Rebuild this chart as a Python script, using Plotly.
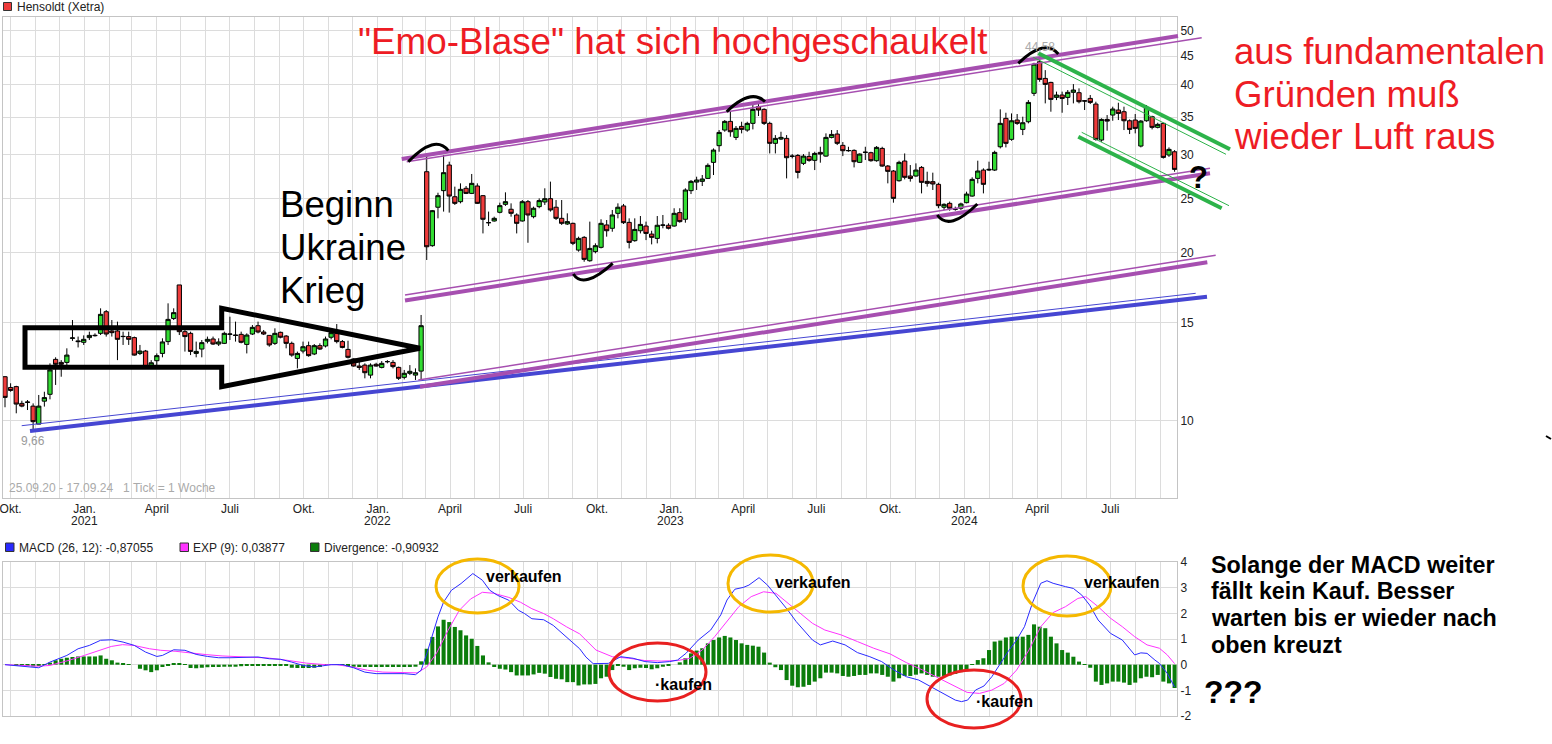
import plotly.graph_objects as go
import pandas as pd

# ---------------- data ----------------
candle_dates = pd.date_range("2020-09-24", periods=209, freq="7D")

opens = [11.99, 11.47, 11.51, 10.74, 10.78, 10.62, 9.86, 10.84, 11.15, 12.88,
         12.72, 12.72, 14.05, 13.90, 13.82, 14.09, 14.20, 14.34, 15.68, 14.48,
         14.48, 14.15, 14.15, 14.09, 13.20, 13.33, 12.55, 12.81, 13.20, 13.86,
         15.25, 17.51, 14.44, 14.34, 13.20, 13.44, 13.88, 14.01, 13.72, 13.76,
         14.28, 14.24, 14.28, 13.70, 14.30, 14.80, 14.42, 14.22, 13.76, 14.40,
         14.18, 13.76, 12.93, 13.33, 13.63, 13.17, 13.63, 13.61, 14.11, 14.34,
         13.86, 13.42, 12.90, 12.53, 12.58, 12.07, 12.62, 12.46, 12.76, 12.72,
         12.46, 11.96, 12.16, 12.07, 12.27, 27.94, 20.59, 24.13, 25.84, 28.72,
         25.20, 24.69, 26.09, 25.55, 26.34, 25.31, 22.64, 22.80, 23.63, 24.42,
         23.93, 23.37, 22.80, 24.69, 23.21, 24.19, 24.66, 25.00, 24.13, 23.05,
         22.52, 22.58, 20.22, 21.31, 19.35, 20.09, 20.45, 22.43, 22.12, 23.53,
         24.26, 22.67, 21.02, 21.90, 22.33, 21.60, 21.22, 22.40, 22.40, 22.33,
         23.60, 22.96, 25.84, 26.77, 26.85, 27.18, 29.04, 31.11, 33.18, 34.39,
         32.19, 33.69, 33.18, 34.11, 36.54, 36.14, 34.11, 31.41, 31.97, 32.06,
         29.80, 29.88, 28.92, 29.76, 29.28, 30.26, 29.80, 32.19, 32.64, 31.15,
         30.47, 30.51, 29.04, 30.26, 30.22, 29.24, 30.76, 28.60, 28.02, 26.92,
         29.20, 27.45, 27.45, 28.44, 26.85, 26.82, 26.52, 24.13, 24.52, 23.93,
         24.03, 24.59, 25.27, 27.18, 28.13, 28.13, 28.13, 30.97, 34.82, 31.93,
         34.58, 33.27, 34.34, 38.61, 43.98, 41.06, 40.39, 37.97, 38.34, 37.97,
         38.77, 38.71, 37.45, 37.81, 36.94, 31.84, 34.67, 35.30, 36.04, 35.79,
         34.48, 34.58, 31.06, 34.48, 35.06, 33.55, 34.11, 29.93, 30.34]

highs = [12.02, 11.67, 11.55, 10.86, 10.89, 10.74, 11.12, 11.27, 12.67, 12.99,
         12.84, 13.48, 15.15, 14.15, 14.22, 14.44, 14.34, 15.90, 15.79, 15.15,
         15.05, 14.44, 14.44, 14.15, 13.67, 13.39, 12.84, 13.20, 14.05, 16.23,
         15.90, 17.51, 14.54, 14.44, 13.86, 13.95, 14.15, 14.15, 14.05, 14.44,
         15.36, 15.05, 14.44, 14.34, 14.84, 15.05, 14.54, 14.24, 14.64, 14.44,
         14.24, 13.86, 13.30, 13.86, 13.86, 13.72, 13.76, 14.15, 14.54, 14.90,
         13.95, 13.91, 12.93, 12.81, 12.67, 12.67, 12.70, 12.79, 12.84, 12.84,
         12.50, 12.33, 12.58, 12.41, 15.47, 29.72, 23.86, 25.62, 29.93, 29.12,
         26.27, 26.63, 26.34, 27.68, 26.63, 25.38, 23.70, 23.21, 24.59, 25.66,
         24.52, 23.53, 24.86, 24.86, 24.19, 25.03, 26.09, 26.82, 24.86, 24.86,
         23.53, 22.64, 21.37, 21.42, 22.74, 20.79, 22.96, 22.89, 23.86, 24.52,
         24.46, 23.05, 23.05, 23.27, 22.74, 21.90, 23.27, 23.37, 22.58, 24.03,
         24.03, 26.09, 27.00, 27.37, 27.56, 28.92, 30.76, 33.18, 34.58, 35.79,
         33.74, 34.34, 34.34, 36.79, 36.94, 36.29, 34.34, 32.50, 32.95, 32.50,
         30.05, 30.05, 30.05, 30.34, 30.34, 30.97, 32.73, 33.18, 33.18, 31.58,
         30.97, 30.64, 30.13, 30.97, 30.34, 31.06, 30.97, 28.72, 28.13, 29.24,
         30.13, 28.72, 28.92, 28.60, 27.94, 27.83, 26.70, 24.52, 24.70, 24.19,
         24.59, 25.73, 27.30, 29.24, 28.33, 29.12, 30.47, 36.14, 35.64, 35.54,
         35.45, 35.06, 37.55, 43.80, 44.58, 42.49, 40.50, 38.88, 38.88, 39.14,
         40.11, 39.41, 37.55, 38.34, 37.30, 34.82, 35.30, 36.54, 37.14, 36.54,
         34.67, 35.45, 34.58, 36.79, 35.20, 34.20, 34.20, 30.89, 30.55]

lows = [10.57, 11.27, 10.31, 10.57, 10.45, 9.66, 9.86, 10.60, 10.92, 11.59,
        11.99, 12.50, 13.90, 13.53, 13.67, 13.95, 14.15, 14.24, 14.15, 14.15,
        12.84, 13.67, 13.67, 13.08, 13.11, 12.41, 12.50, 12.58, 12.99, 13.67,
        15.15, 14.24, 13.30, 13.11, 12.99, 12.99, 13.76, 13.67, 13.61, 13.72,
        13.95, 13.86, 13.76, 13.20, 14.24, 14.34, 14.24, 13.57, 13.67, 14.05,
        13.48, 13.02, 12.41, 13.20, 13.02, 13.11, 13.39, 13.53, 13.99, 13.76,
        13.48, 12.93, 12.50, 12.33, 11.91, 11.91, 12.50, 12.41, 12.67, 12.41,
        11.83, 11.86, 12.07, 11.83, 11.83, 19.41, 20.50, 23.05, 23.70, 23.60,
        24.36, 24.52, 25.48, 25.48, 24.46, 21.66, 22.33, 22.74, 23.53, 24.26,
        23.21, 21.66, 22.74, 20.84, 23.05, 24.03, 24.36, 23.70, 22.89, 22.43,
        22.43, 20.64, 20.09, 19.27, 19.27, 19.95, 20.36, 21.37, 21.81, 23.05,
        22.52, 20.36, 20.93, 21.66, 21.07, 20.70, 20.79, 22.12, 22.02, 22.27,
        22.64, 22.64, 25.48, 25.91, 26.34, 27.11, 27.56, 30.34, 32.95, 32.28,
        31.84, 32.73, 32.95, 33.27, 35.16, 33.88, 30.13, 30.13, 31.84, 27.18,
        29.52, 27.18, 28.72, 29.12, 28.13, 29.00, 29.72, 32.06, 31.19, 29.80,
        30.34, 28.44, 29.00, 29.32, 29.12, 29.12, 28.52, 26.63, 24.59, 26.82,
        27.07, 26.82, 27.37, 25.55, 26.27, 25.91, 24.03, 23.86, 23.79, 23.79,
        23.86, 24.52, 25.20, 26.63, 25.55, 28.02, 28.02, 30.76, 30.89, 31.75,
        33.90, 32.50, 34.11, 38.18, 40.50, 37.04, 35.79, 37.55, 35.64, 36.79,
        37.04, 37.04, 36.04, 36.94, 31.75, 31.62, 33.09, 34.48, 34.58, 33.18,
        32.64, 32.73, 30.89, 34.34, 33.27, 33.41, 29.50, 29.70, 27.94]

closes = [11.01, 11.33, 10.71, 10.62, 10.80, 9.96, 10.62, 11.00, 12.33, 12.62,
          12.62, 13.11, 14.07, 13.86, 13.99, 14.22, 14.22, 15.51, 14.30, 14.38,
          13.99, 14.16, 13.99, 13.11, 13.33, 12.50, 12.70, 13.08, 13.84, 15.19,
          15.62, 14.44, 14.15, 13.31, 13.31, 13.80, 13.99, 13.72, 13.84, 14.34,
          14.30, 14.22, 13.82, 14.24, 14.70, 14.42, 14.30, 13.67, 14.34, 14.11,
          13.76, 13.11, 13.20, 13.57, 13.08, 13.63, 13.44, 14.01, 14.38, 13.86,
          13.53, 12.99, 12.53, 12.46, 12.19, 12.58, 12.53, 12.67, 12.76, 12.50,
          11.91, 12.16, 12.26, 12.19, 14.80, 20.50, 23.79, 25.31, 27.83, 25.27,
          24.52, 25.98, 25.55, 26.63, 24.52, 22.96, 22.64, 23.05, 24.29, 24.69,
          23.53, 22.58, 24.69, 23.37, 24.03, 24.80, 25.00, 23.86, 23.05, 22.58,
          22.74, 20.79, 21.22, 19.46, 20.36, 20.59, 22.58, 21.90, 23.37, 24.13,
          22.64, 20.87, 22.02, 22.48, 21.66, 21.31, 22.40, 22.42, 22.12, 23.53,
          22.74, 25.91, 26.85, 27.00, 27.11, 28.68, 30.55, 32.86, 34.39, 32.95,
          33.41, 33.27, 34.11, 36.14, 36.04, 34.11, 31.41, 32.06, 32.19, 29.60,
          29.78, 27.86, 29.80, 29.28, 30.13, 30.05, 32.19, 32.59, 31.41, 30.47,
          30.49, 29.12, 30.05, 30.28, 29.24, 30.89, 28.60, 27.98, 25.03, 29.04,
          27.30, 27.18, 28.13, 26.74, 26.63, 26.56, 24.29, 24.42, 24.03, 23.95,
          24.46, 25.48, 27.07, 28.02, 26.52, 28.21, 30.26, 34.11, 31.41, 34.48,
          34.11, 34.20, 37.19, 43.56, 40.89, 40.06, 37.66, 38.34, 37.81, 38.77,
          39.14, 37.30, 37.40, 37.19, 31.93, 34.67, 34.43, 36.19, 35.54, 34.48,
          33.27, 33.41, 34.43, 36.44, 33.55, 33.97, 29.64, 30.64, 28.21]

divergence = [0.00, 0.00, -0.02, -0.04, -0.05, -0.07, -0.05, 0.01, 0.08, 0.17,
              0.23, 0.27, 0.30, 0.32, 0.32, 0.32, 0.32, 0.36, 0.23, 0.17,
              0.08, 0.04, 0.01, 0.00, -0.16, -0.22, -0.29, -0.22, -0.09, -0.03,
              0.04, 0.04, -0.01, -0.13, -0.14, -0.12, -0.10, -0.09, -0.09, -0.08,
              -0.08, -0.08, -0.06, -0.05, -0.04, -0.03, -0.04, -0.05, -0.05, -0.05,
              -0.05, -0.12, -0.13, -0.13, -0.13, -0.12, -0.09, -0.01, 0.00, 0.01,
              -0.01, -0.06, -0.08, -0.09, -0.09, -0.09, -0.09, -0.09, -0.09, -0.09,
              -0.09, -0.09, -0.09, -0.08, 0.13, 0.62, 1.08, 1.49, 1.75, 1.66,
              1.47, 1.34, 1.14, 1.01, 0.73, 0.36, 0.09, -0.09, -0.16, -0.19,
              -0.29, -0.42, -0.42, -0.42, -0.38, -0.32, -0.35, -0.48, -0.55, -0.57,
              -0.68, -0.68, -0.81, -0.77, -0.77, -0.75, -0.53, -0.47, -0.21, -0.05,
              -0.08, -0.21, -0.14, -0.12, -0.13, -0.18, -0.14, -0.08, -0.05, 0.00,
              0.09, 0.25, 0.44, 0.55, 0.64, 0.83, 0.96, 1.06, 1.12, 1.06,
              0.96, 0.83, 0.77, 0.74, 0.70, 0.47, 0.08, -0.10, -0.21, -0.60,
              -0.82, -0.88, -0.86, -0.79, -0.66, -0.53, -0.31, -0.31, -0.34, -0.44,
              -0.47, -0.44, -0.40, -0.40, -0.34, -0.34, -0.40, -0.47, -0.66, -0.53,
              -0.44, -0.44, -0.39, -0.34, -0.40, -0.47, -0.47, -0.44, -0.42, -0.36,
              -0.29, -0.25, -0.01, 0.18, 0.25, 0.57, 0.90, 0.94, 1.06, 1.09,
              1.09, 1.09, 1.16, 1.57, 1.48, 1.42, 1.09, 0.83, 0.57, 0.47,
              0.31, 0.12, 0.01, -0.12, -0.66, -0.79, -0.73, -0.66, -0.66, -0.70,
              -0.79, -0.70, -0.53, -0.47, -0.49, -0.40, -0.66, -0.73, -0.91]

# MACD line readings (position in weeks from first candle, value)
macd_week = [0, 6, 8, 11, 13, 15, 17, 19, 21, 23, 25, 27, 28, 30, 32, 34, 36, 38, 40, 43,
             45, 47, 49, 51, 53, 55, 56, 58, 60, 62, 64, 66, 69, 71, 73, 74, 75, 76, 77, 78,
             79.4, 81.1, 82.2, 83.2, 84.9, 86.2, 87.6, 89.6, 91.3, 92.4, 93.7, 95.8, 97.5, 99.2, 101.2, 102.2,
             103.3, 104.6, 107.3, 109.5, 111.7, 113.8, 116, 118.2, 119.6, 121.1, 123.3, 125.5, 127.3, 128.4,
             129.8, 131.3, 132.3, 134.1, 135.6, 137.8, 139.2, 140.7, 142.1, 143.6, 145, 147.2, 149.4, 151.6,
             153.8, 155.9, 158.1, 160.3, 162.5, 164.6, 166.8, 169, 170.1, 171.2, 172.6, 174.1, 175.5, 177,
             178.4, 179.9, 181.3, 182.8, 184.2, 185.3, 186.4, 188.6, 190, 191.5, 192.9, 194.4, 196.6, 198.7,
             200.9, 202, 203.1, 204.5, 205.3, 206.7, 208]
macd_vals = [0.00, -0.12, 0.10, 0.36, 0.62, 0.75, 0.95, 0.97, 0.88, 0.75, 0.49, 0.32, 0.36, 0.58, 0.56, 0.40, 0.32, 0.27, 0.27, 0.30,
             0.30, 0.23, 0.21, 0.10, -0.03, -0.09, -0.06, 0.00, 0.00, -0.12, -0.29, -0.35, -0.35, -0.35, -0.39, -0.22, 0.42, 1.10, 1.86, 2.44,
             2.90, 3.16, 3.35, 3.55, 3.29, 2.90, 2.70, 2.51, 2.12, 1.99, 1.79, 1.75, 1.53, 1.21, 0.82, 0.62,
             0.30, 0.04, 0.05, 0.31, 0.25, 0.12, 0.08, 0.12, 0.18, 0.44, 0.96, 1.35, 1.94, 2.52,
             2.94, 3.01, 3.10, 3.39, 3.10, 2.52, 2.13, 1.68, 1.35, 0.96, 0.77, 0.92, 0.77, 0.47,
             0.31, 0.12, -0.21, -0.47, -0.60, -0.86, -1.12, -1.38, -1.44, -1.38, -0.99, -0.83, -0.47, 0.05,
             0.51, 0.96, 1.48, 2.45, 3.17, 3.27, 3.17, 3.04, 2.97, 2.71, 2.32, 1.74, 1.22, 0.96,
             0.38, 0.46, 0.44, 0.18, 0.05, -0.34, -0.87]

# EXP(9) signal line readings
exp_week = [0, 6, 8, 11.4, 14.1, 16.8, 18.9, 20.9, 22.9, 25.7, 27.7, 30.4, 33.1, 35.9, 38.6, 42.7, 46.8, 50.2,
            53.6, 57, 59, 61.7, 64.5, 67.2, 70.6, 73.3, 75, 76.7, 78.8, 80.8, 82.8, 84.9, 86.9, 89.6, 91.7,
            93.7, 95.8, 97.5, 99.9, 102.2, 105.1, 108, 110.9, 113.8, 116.7, 119.6, 121.8, 124, 126.2, 128.4,
            130.5, 132.7, 134.9, 137.1, 139.2, 141.4, 143.6, 145.8, 148.7, 151.6, 154.5, 157.4, 160.3, 163.2,
            166.1, 168.9, 171.1, 173.3, 175.5, 177.7, 179.9, 182.1, 184.2, 186.4, 188.6, 190.8, 192.2, 194.4,
            196.6, 198.7, 200.9, 203.1, 205.3, 206.7, 208]
exp_vals = [0.00, -0.06, -0.03, 0.17, 0.36, 0.56, 0.71, 0.78, 0.75, 0.62, 0.56, 0.52, 0.45, 0.39, 0.34, 0.30, 0.26, 0.17,
            0.06, 0.00, 0.00, -0.09, -0.22, -0.29, -0.32, -0.32, -0.09, 0.43, 1.34, 2.12, 2.56, 2.82, 2.78, 2.62, 2.43,
            2.18, 1.99, 1.79, 1.47, 1.20, 0.57, 0.31, 0.25, 0.16, 0.14, 0.16, 0.25, 0.57, 1.09, 1.68,
            2.26, 2.65, 2.84, 2.78, 2.39, 2.00, 1.61, 1.35, 1.16, 0.90, 0.64, 0.42, 0.08, -0.21,
            -0.53, -0.86, -1.08, -1.12, -0.99, -0.73, -0.21, 0.57, 1.48, 2.03, 2.26, 2.58, 2.65, 2.26,
            1.81, 1.48, 1.09, 0.77, 0.64, 0.38, 0.04]

price_ticks = [10, 15, 20, 25, 30, 35, 40, 45, 50]
macd_ticks = [-2, -1, 0, 1, 2, 3, 4]
quarter_dates = ["2020-10-01", "2021-01-01", "2021-04-01", "2021-07-01", "2021-10-01",
                 "2022-01-01", "2022-04-01", "2022-07-01", "2022-10-01", "2023-01-01",
                 "2023-04-01", "2023-07-01", "2023-10-01", "2024-01-01", "2024-04-01",
                 "2024-07-01"]
quarter_labels = ["Okt.", "Jan.", "April", "Juli", "Okt.", "Jan.", "April",
                  "Juli", "Okt.", "Jan.", "April", "Juli", "Okt.", "Jan.",
                  "April", "Juli"]
year_dates = ["2021-01-01", "2022-01-01", "2023-01-01", "2024-01-01"]
year_labels = ["2021", "2022", "2023", "2024"]

# ---------------- styling / layout ----------------
W, H = 1552, 744
ML, MR, MT, MB = 3, 375, 17, 28
PW, PH = W - ML - MR, H - MT - MB
FONT = "Liberation Sans, Arial, sans-serif"
GRID = "#dcdcdc"
BORDER = "#c4c4c4"
GREEN_C = "#33dd33"
RED_C = "#ee3b3b"
PURPLE = "#a64fb0"
BLUE_T = "#4646d2"
GREEN_T = "#2db34a"


def px(x):
    return (x - ML) / PW


def py(y):
    return (H - MB - y) / PH


t0 = candle_dates[0]
week = pd.Timedelta(days=7)
x_range = [(t0 - pd.Timedelta(days=2.49)).strftime("%Y-%m-%d %H:%M:%S"),
           (t0 + pd.Timedelta(days=1459.0)).strftime("%Y-%m-%d %H:%M:%S")]
macd_x = [t0 + week * w for w in macd_week]
exp_x = [t0 + week * w for w in exp_week]

fig = go.Figure()
fig.add_trace(go.Candlestick(
    x=candle_dates, open=opens, high=highs, low=lows, close=closes,
    xaxis="x", yaxis="y", whiskerwidth=0,
    increasing=dict(fillcolor=GREEN_C, line=dict(color="black", width=1)),
    decreasing=dict(fillcolor=RED_C, line=dict(color="black", width=1)),
    hoverinfo="skip"))
fig.add_trace(go.Bar(x=candle_dates, y=divergence, xaxis="x2", yaxis="y2",
                     marker=dict(color="#0b7d0b", line=dict(width=0))))
fig.add_trace(go.Scatter(x=exp_x, y=exp_vals, xaxis="x2", yaxis="y2", mode="lines",
                         line=dict(color="#ff33ff", width=1)))
fig.add_trace(go.Scatter(x=macd_x, y=macd_vals, xaxis="x2", yaxis="y2", mode="lines",
                         line=dict(color="#2a2aff", width=1)))

minor = dict(dtick="M1", tick0="2020-10-01", showgrid=True, gridcolor=GRID, gridwidth=1)
xcommon = dict(type="date", range=x_range, showgrid=True, gridcolor=GRID, gridwidth=1,
               showline=True, linecolor=BORDER, linewidth=1, mirror=True, ticks="",
               zeroline=False, tickmode="array", tickvals=quarter_dates, minor=minor,
               automargin=False)

fig.update_layout(
    width=W, height=H, margin=dict(l=ML, r=MR, t=MT, b=MB, pad=0, autoexpand=False),
    paper_bgcolor="white", plot_bgcolor="white", showlegend=False,
    font=dict(family=FONT, size=12, color="#222"), bargap=0.28,
    boxgap=0.2, boxgroupgap=0.05,
    xaxis=dict(**xcommon, anchor="y", ticktext=quarter_labels, ticklabeloverflow="allow",
               rangeslider=dict(visible=False), tickfont=dict(size=12, color="#222")),
    xaxis2=dict(**xcommon, anchor="y2", matches="x", showticklabels=False),
    yaxis=dict(domain=[(H - MB - 498) / PH, 1], type="log",
               range=[0.86146, 1.7235], side="right", anchor="x", automargin=False,
               tickmode="array", tickvals=price_ticks, ticktext=[str(v) for v in price_ticks],
               showgrid=True, gridcolor=GRID, showline=True, linecolor=BORDER, mirror=True,
               ticks="", zeroline=False, tickfont=dict(size=12, color="#222")),
    yaxis2=dict(domain=[0, (H - MB - 562) / PH], range=[-2, 4], side="right", anchor="x2",
                automargin=False,
                tickmode="array", tickvals=macd_ticks, ticktext=[str(v) for v in macd_ticks],
                showgrid=True, gridcolor=GRID, showline=True, linecolor=BORDER, mirror=True,
                ticks="", zeroline=False, tickfont=dict(size=12, color="#222")),
)

shapes = []


def line(x0, y0, x1, y1, color, width):
    shapes.append(dict(type="line", xref="paper", yref="paper", x0=px(x0), y0=py(y0),
                       x1=px(x1), y1=py(y1), line=dict(color=color, width=width), layer="above"))


def arc(p0, peak, p1, width=3):
    cx = 2 * peak[0] - (p0[0] + p1[0]) / 2
    cy = 2 * peak[1] - (p0[1] + p1[1]) / 2
    path = f"M {px(p0[0])},{py(p0[1])} Q {px(cx)},{py(cy)} {px(p1[0])},{py(p1[1])}"
    shapes.append(dict(type="path", xref="paper", yref="paper", path=path,
                       line=dict(color="black", width=width), layer="above"))


def ellipse(x0, y0, x1, y1, color):
    shapes.append(dict(type="circle", xref="paper", yref="paper", x0=px(x0), y0=py(y1),
                       x1=px(x1), y1=py(y0), line=dict(color=color, width=3), layer="above"))


def square(x0, y0, x1, y1, color):
    shapes.append(dict(type="rect", xref="paper", yref="paper", x0=px(x0), y0=py(y1),
                       x1=px(x1), y1=py(y0), fillcolor=color, line=dict(color="#333", width=1)))


# channel / trend lines (hand drawn)
line(30, 431, 1207, 296.7, BLUE_T, 4)
line(21.7, 425.7, 1195.7, 293.3, BLUE_T, 1)
line(401.7, 159, 1178, 36, PURPLE, 4)
line(406.7, 161.7, 1201.7, 37.7, PURPLE, 1.5)
line(405, 300.5, 1210, 173.3, PURPLE, 4)
line(405, 295, 1210, 168.3, PURPLE, 1.5)
line(420, 386.7, 1207.3, 262.3, PURPLE, 4)
line(418.3, 380, 1215.7, 255.3, PURPLE, 1.5)
line(1038.3, 53.3, 1230, 149.3, GREEN_T, 4)
line(1033.3, 57.3, 1226, 154.3, GREEN_T, 1)
line(1078.3, 136.7, 1221.7, 208.3, GREEN_T, 4)
line(1081.7, 132.3, 1229, 205.7, GREEN_T, 1)
line(1546, 436, 1551, 439, "black", 2)

# arcs
arc((408.3, 161.7), (431.7, 145), (448.3, 150.7))
arc((726.7, 111.7), (748.3, 97.3), (765, 101.7))
arc((1018.3, 63.3), (1041.7, 48.3), (1058.3, 54))
arc((573.3, 274), (588.3, 279.3), (612.7, 263.3))
arc((937.3, 215), (953.3, 220.7), (977.3, 204))

# big arrow
pts = [(25, 327.7), (221.7, 327.7), (221.7, 308.3), (420, 348.3), (221.7, 386.7),
       (221.7, 367.3), (25, 367.3)]
path = "M " + " L ".join(f"{px(a)},{py(b)}" for a, b in pts) + " Z"
shapes.append(dict(type="path", xref="paper", yref="paper", path=path,
                   line=dict(color="black", width=5), layer="above"))

# ellipses in MACD panel
ellipse(436, 559, 519, 613, "#f5b800")
ellipse(728, 555, 813, 612, "#f5b800")
ellipse(1023, 556, 1111, 616, "#f5b800")
ellipse(609, 643, 706, 701, "#e82020")
ellipse(927, 670, 1021, 728, "#e82020")

# legend squares
square(3.5, 2.5, 11.5, 10.5, RED_C)
square(5.5, 543, 14, 551.5, "#2a2aff")
square(180, 543, 188.5, 551.5, "#ff33ff")
square(310.5, 543, 319, 551.5, "#0b7d0b")

fig.update_layout(shapes=shapes)

annotations = []


def text(s, x, y, size, color="black", bold=False, xanchor="left"):
    if bold:
        s = "<b>" + s + "</b>"
    annotations.append(dict(xref="paper", yref="paper", x=px(x), y=py(y), text=s,
                            showarrow=False, xanchor=xanchor, yanchor="middle",
                            font=dict(family=FONT, size=size, color=color)))


for d, lab in zip(year_dates, year_labels):
    annotations.append(dict(xref="x", yref="paper", x=d, y=py(521), text=lab,
                            showarrow=False, xanchor="center", yanchor="middle",
                            font=dict(family=FONT, size=12, color="#222")))

text("Hensoldt (Xetra)", 15, 6.5, 12, "#222")
text("MACD (26, 12): -0,87055", 16.5, 547.5, 12, "#222")
text("EXP (9): 0,03877", 190.5, 547.5, 12, "#222")
text("Divergence: -0,90932", 322, 547.5, 12, "#222")
text("25.09.20 - 17.09.24   1 Tick = 1 Woche", 7, 487.5, 12, "#aaaaaa")
text("9,66", 33, 441, 12, "#9a9a9a", xanchor="center")
text("44,58", 1040, 47, 12, "#aaaaaa", xanchor="center")

RED_TXT = "#ee1c24"
text('"Emo-Blase" hat sich hochgeschaukelt', 356, 41, 36.8, RED_TXT)
text("Beginn", 278, 205, 36.6)
text("Ukraine", 278, 247.5, 36.6)
text("Krieg", 278, 290, 36.6)
text("aus fundamentalen", 1232, 52, 36.6, RED_TXT)
text("Gründen muß", 1232, 94.5, 36.6, RED_TXT)
text("wieder Luft raus", 1232, 136.5, 36.6, RED_TXT)
text("?", 1198, 177, 31, bold=True, xanchor="center")

text("Solange der MACD weiter", 1209, 564.7, 23.3, bold=True)
text("fällt kein Kauf. Besser", 1209, 591.3, 23.3, bold=True)
text("warten bis er wieder nach", 1209, 618, 23.3, bold=True)
text("oben kreuzt", 1209, 645, 23.3, bold=True)
text("???", 1202, 692, 32, bold=True)

text("verkaufen", 484, 576, 16, bold=True)
text("verkaufen", 773, 582, 16, bold=True)
text("verkaufen", 1082, 582, 16, bold=True)
text("·kaufen", 653, 684, 16, bold=True)
text("·kaufen", 974, 701, 16, bold=True)

fig.update_layout(annotations=annotations)

fig.write_html("out.html", config={"displayModeBar": False},
               post_script="document.body.style.margin='0px';document.body.style.padding='0px';")
